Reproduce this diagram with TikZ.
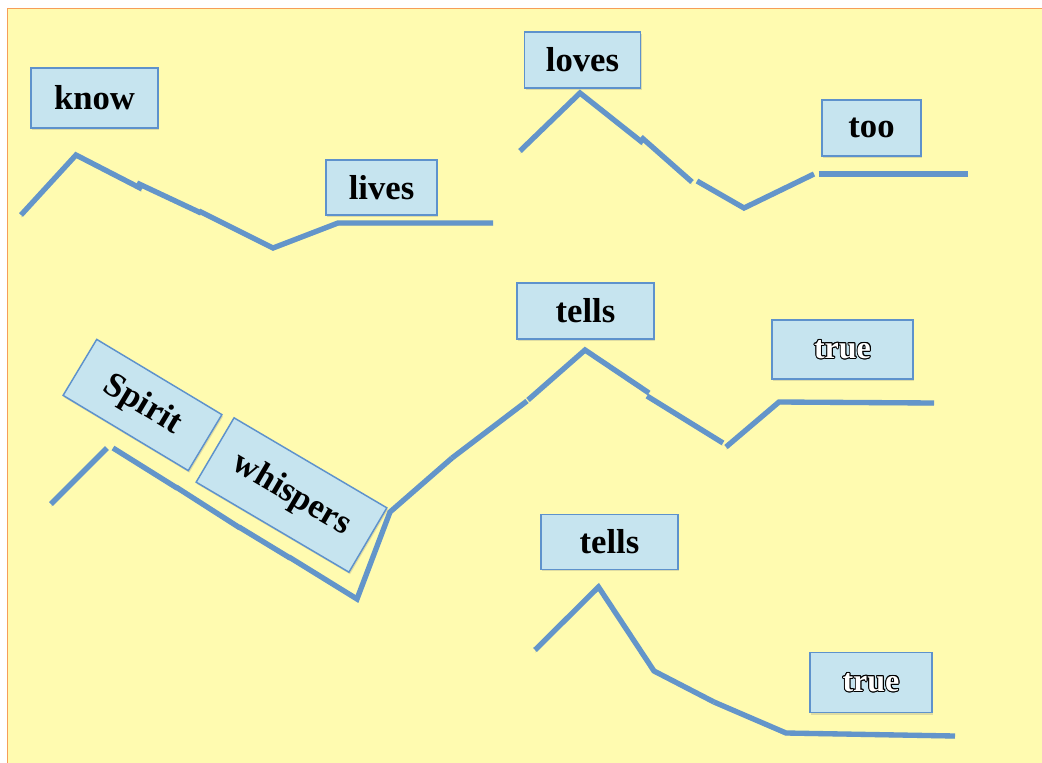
\documentclass[tikz,border=0pt]{standalone}
\usepackage{fontspec}
\setmainfont{Liberation Serif}
\usepackage{tikz}
\usetikzlibrary{shadows}
\definecolor{paperyellow}{RGB}{255, 251, 176}
\definecolor{frameorange}{RGB}{246, 158, 88}
\definecolor{boxblue}{RGB}{198, 228, 239}
\definecolor{edgeblue}{RGB}{94, 146, 204}
\definecolor{lineblue}{RGB}{99, 149, 202}
\newcommand{\wordfont}{\fontsize{26}{30}\selectfont\bfseries}
\newcommand{\truefont}{\fontsize{24}{28}\selectfont\bfseries}

\begin{document}
\begin{tikzpicture}[x=0.75pt, y=-0.75pt,
  wordbox/.style={draw=edgeblue, line width=1.1pt, fill=boxblue, inner sep=0pt, font=\wordfont,
    drop shadow={opacity=0.25, shadow xshift=0.8pt, shadow yshift=-1.5pt}},
  diag/.style={draw=lineblue, line width=4pt,
    preaction={draw=black, opacity=0.12, transform canvas={yshift=-1.8pt}}}]
  \useasboundingbox (0, 0) rectangle (1042, 763);
  \fill[white] (0, 0) rectangle (1042, 763);
  \clip (0, 0) rectangle (1042, 763);
  \draw[frameorange, line width=1.2pt, fill=paperyellow] (7.5, 8.5) rectangle (1060, 780);

  % know ... lives
  \node[wordbox, minimum width=95pt, minimum height=45pt] (know) at (94.5, 98) {know};
  \node[wordbox, minimum width=83pt, minimum height=41pt] (lives) at (381.5, 187.5) {lives};
  \draw[diag] (21, 215) -- (76, 155) -- (142, 189);
  \draw[diag] (137, 183) -- (201, 213);
  \draw[diag] (199, 211) -- (273, 248) -- (338, 223) -- (493, 223);

  % loves ... too
  \node[wordbox, minimum width=87pt, minimum height=42pt] (loves) at (582.5, 60) {loves};
  \node[wordbox, minimum width=74pt, minimum height=42pt] (too) at (871.5, 128) {too};
  \draw[diag] (520, 151) -- (580, 93) -- (643, 143);
  \draw[diag] (641, 137) -- (692, 182);
  \draw[diag] (697, 181) -- (744, 208) -- (814, 174);
  \draw[diag] (819, 174) -- (968, 174);

  % Spirit whispers ... tells ... true
  \node[wordbox, rotate=-31, minimum width=109.5pt, minimum height=49pt] (spirit) at (142.5, 405) {Spirit};
  \node[wordbox, rotate=-30.5, minimum width=133pt, minimum height=56pt] (whispers) at (291.5, 495) {whispers};
  \node[wordbox, minimum width=103pt, minimum height=42pt] (tellsA) at (585.5, 311) {tells};
  \node[wordbox, minimum width=106pt, minimum height=44pt] (trueA) at (842.5, 349.5) {};
  \foreach \a in {0, 30, ..., 330}
    \node[font=\truefont] at ([shift={(\a:0.7pt)}]trueA) {true};
  \node[font=\truefont, text=white] at (trueA) {true};
  \draw[diag] (51, 504) -- (107, 448);
  \draw[diag] (113, 448) -- (177, 488);
  \draw[diag] (176, 487) -- (240, 528);
  \draw[diag] (239, 527) -- (290, 558);
  \draw[diag] (289, 557) -- (357, 599) -- (390, 512) -- (452, 458);
  \draw[diag] (452, 458) -- (527, 401);
  \draw[diag] (528, 400) -- (585, 350) -- (649, 393);
  \draw[diag] (647, 396) -- (723, 443);
  \draw[diag] (726, 447) -- (779, 402) -- (934, 403);

  % tells ... true
  \node[wordbox, minimum width=103pt, minimum height=41pt] (tellsB) at (609.5, 542) {tells};
  \node[wordbox, minimum width=91.5pt, minimum height=45pt] (trueB) at (871, 682.5) {};
  \foreach \a in {0, 30, ..., 330}
    \node[font=\truefont] at ([shift={(\a:0.7pt)}]trueB) {true};
  \node[font=\truefont, text=white] at (trueB) {true};
  \draw[diag] (535, 650) -- (598.5, 587) -- (654, 671) -- (714, 702);
  \draw[diag] (714, 702) -- (786, 733) -- (955, 736);
\end{tikzpicture}
\end{document}
